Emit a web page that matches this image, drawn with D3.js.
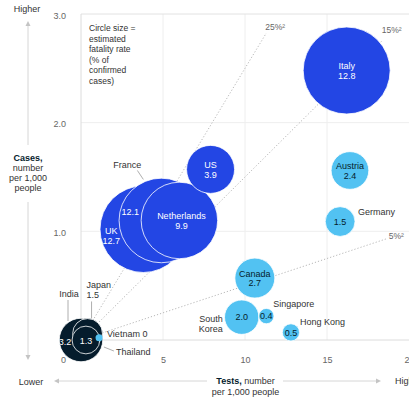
<!DOCTYPE html>
<html>
<head>
<meta charset="utf-8">
<script src="https://cdn.jsdelivr.net/npm/d3@7"></script>
<style>
  body { margin: 0; background: #fff; }
  svg { display: block; font-family: "Liberation Sans", Arial, sans-serif; }
  .tick text { fill: #666; font-size: 9px; }
</style>
</head>
<body>
<svg id="chart" width="409" height="398"></svg>
<script>
// countries, tests per 1,000 people, cases per 1,000 people, fatality rate (%)
var countries = ["UK", "France", "Netherlands", "US", "Italy", "Austria", "Germany", "Canada",
                 "South Korea", "Singapore", "Hong Kong", "India", "Japan", "Thailand", "Vietnam"];
var tests    = [3.8, 4.9, 6.0, 7.9, 16.2, 16.4, 15.8, 10.6, 9.8, 11.3, 12.8, 0.0, 0.4, 0.3, 1.1];
var cases    = [1.02, 1.10, 1.10, 1.57, 2.48, 1.56, 1.09, 0.57, 0.21, 0.22, 0.07, 0.0, 0.06, 0.0, 0.02];
var fatality = [12.7, 12.1, 9.9, 3.9, 12.8, 2.4, 1.5, 2.7, 2.0, 0.4, 0.5, 3.2, 1.5, 1.3, 0];
var groups   = ["high", "high", "high", "high", "high", "mid", "mid", "mid",
                "mid", "mid", "mid", "low", "low", "low", "mid"];

// positivity reference lines (cases / tests) and where they stop on the tests axis
var positivity = [0.25, 0.15, 0.05];
var positivityLabels = ["25%²", "15%²", "5%²"];
var positivityEnd = [11.3, 18.4, 18.7];

var xTicks = [0, 5, 10, 15, 20];
var yTicks = [1, 2, 3];

var svg = d3.select("#chart");
var width = 409;

var x = d3.scaleLinear().domain([0, 20]).range([81, 409]);
var y = d3.scaleLinear().domain([0, 3]).range([340, 14]);
var r = d3.scaleSqrt().domain([0, 12.8]).range([0, 43.5]);
var color = d3.scaleOrdinal().domain(["high", "mid", "low"]).range(["#2346e4", "#52c2f2", "#051c2c"]);

var data = countries.map(function (c, i) {
    return { name: c, tests: tests[i], cases: cases[i], fatality: fatality[i], group: groups[i] };
});

// gridlines
var grid = svg.append("g").attr("class", "grid");
grid.selectAll("line.gx").data([5, 10, 15]).enter().append("line")
    .attr("x1", function (d) { return x(d); }).attr("x2", function (d) { return x(d); })
    .attr("y1", y(3)).attr("y2", y(0))
    .attr("stroke", "#eeeeee");
grid.selectAll("line.gy").data([1, 2]).enter().append("line")
    .attr("x1", x(0)).attr("x2", width)
    .attr("y1", function (d) { return y(d); }).attr("y2", function (d) { return y(d); })
    .attr("stroke", "#eeeeee");
// frame
grid.append("line").attr("x1", x(0)).attr("x2", width).attr("y1", y(3)).attr("y2", y(3)).attr("stroke", "#e2e2e2");
grid.append("line").attr("x1", x(0)).attr("x2", x(0)).attr("y1", y(3)).attr("y2", y(0)).attr("stroke", "#dcdcdc");
grid.append("line").attr("x1", x(0)).attr("x2", width).attr("y1", y(0)).attr("y2", y(0)).attr("stroke", "#dcdcdc");

// axes
var xAxis = svg.append("g")
    .attr("transform", "translate(0," + y(0) + ")")
    .call(d3.axisBottom(x).tickValues(xTicks).tickSize(0).tickPadding(17).tickFormat(d3.format("d")));
xAxis.select(".domain").remove();
xAxis.selectAll(".tick").filter(function (d) { return d === 0; }).select("text").attr("dx", -18);

var yAxis = svg.append("g")
    .attr("transform", "translate(" + x(0) + ",0)")
    .call(d3.axisLeft(y).tickValues(yTicks).tickSize(0).tickPadding(15).tickFormat(d3.format(".1f")));
yAxis.select(".domain").remove();
yAxis.selectAll(".tick text").attr("dy", "0.45em");

// positivity lines
var plines = svg.append("g");
positivity.forEach(function (p, i) {
    plines.append("line")
        .attr("x1", x(0)).attr("y1", y(0))
        .attr("x2", x(positivityEnd[i])).attr("y2", y(p * positivityEnd[i]))
        .attr("stroke", "#b8b8b8").attr("stroke-width", 1).attr("stroke-dasharray", "1.2,2");
});
var plabelOffset = [[-1, -6], [-1, -10], [1, -2]];
plines.selectAll("text").data(positivity).enter().append("text")
    .attr("x", function (d, i) { return x(positivityEnd[i]) + plabelOffset[i][0]; })
    .attr("y", function (d, i) { return y(d * positivityEnd[i]) + plabelOffset[i][1]; })
    .attr("dy", "0.35em")
    .attr("font-size", 8.5).attr("fill", "#666")
    .text(function (d, i) { return positivityLabels[i]; });

// bubbles
svg.append("g").selectAll("circle").data(data).enter().append("circle")
    .attr("cx", function (d) { return x(d.tests); })
    .attr("cy", function (d) { return y(d.cases); })
    .attr("r", function (d) { return d.fatality > 0 ? r(d.fatality) : 3.5; })
    .attr("fill", function (d) { return color(d.group); })
    .attr("stroke", "#fff")
    .attr("stroke-width", function (d) { return d.fatality > 0 ? 0.8 : 0; });

function find(name) { return data.filter(function (d) { return d.name === name; })[0]; }

// labels inside the bubbles: [country, lines, dx, dy of first line]
var inner = [
    ["Italy", ["Italy", "12.8"], 0, -4.5],
    ["US", ["US", "3.9"], 0, -4.5],
    ["Netherlands", ["Netherlands", "9.9"], 2, -4.5],
    ["France", ["12.1"], -31, -9],
    ["UK", ["UK", "12.7"], -32, 2],
    ["Austria", ["Austria", "2.4"], 0, -4.5],
    ["Germany", ["1.5"], 0, 0],
    ["Canada", ["Canada", "2.7"], 0, -4.5],
    ["South Korea", ["2.0"], 0, 0],
    ["Singapore", ["0.4"], 0, 0],
    ["Hong Kong", ["0.5"], 0, 0],
    ["India", ["3.2"], -16, 2],
    ["Thailand", ["1.3"], 0, 1]
];
var innerG = svg.append("g").attr("font-size", 9).attr("text-anchor", "middle");
inner.forEach(function (l) {
    var d = find(l[0]);
    var t = innerG.append("text")
        .attr("fill", d.group === "mid" ? "#051c2c" : "#fff");
    l[1].forEach(function (line, j) {
        t.append("tspan")
            .attr("x", x(d.tests) + l[2])
            .attr("y", y(d.cases) + l[3] + j * 9.5)
            .attr("dy", "0.35em")
            .text(line);
    });
});

// labels outside the bubbles: [country, lines, dx, dy, anchor, leader]
var outer = [
    ["France", ["France"], -34, -56, "middle", [[-24, -50], [-18, -41]]],
    ["Germany", ["Germany"], 18, -10, "start", null],
    ["Singapore", ["Singapore"], 7, -12, "start", null],
    ["Hong Kong", ["Hong Kong"], 9, -11, "start", null],
    ["South Korea", ["South", "Korea"], -19, 2, "end", null],
    ["Vietnam", ["Vietnam 0"], 8, -4, "start", null],
    ["Thailand", ["Thailand"], 30, 12, "start", [[18, 7], [28, 11]]],
    ["India", ["India"], -12, -46, "middle", [[-13, -40], [-13, -19]]],
    ["Japan", ["Japan", "1.5"], -1, -49, "start", [[4, -32], [4, -15]]]
];
var outerG = svg.append("g").attr("font-size", 9).attr("fill", "#333");
outer.forEach(function (l) {
    var d = find(l[0]);
    var cx = x(d.tests), cy = y(d.cases);
    var t = outerG.append("text").attr("text-anchor", l[4]);
    l[1].forEach(function (line, j) {
        t.append("tspan")
            .attr("x", cx + l[2])
            .attr("y", cy + l[3] + j * 10)
            .attr("dy", "0.35em")
            .text(line);
    });
    if (l[5]) {
        outerG.append("line")
            .attr("x1", cx + l[5][0][0]).attr("y1", cy + l[5][0][1])
            .attr("x2", cx + l[5][1][0]).attr("y2", cy + l[5][1][1])
            .attr("stroke", "#999").attr("stroke-width", 0.8);
    }
});

// legend note
var note = ["Circle size =", "estimated", "fatality rate", "(% of", "confirmed", "cases)"];
svg.append("text").attr("font-size", 8.5).attr("fill", "#333")
    .selectAll("tspan").data(note).enter().append("tspan")
    .attr("x", 89).attr("y", function (d, i) { return 28 + i * 10.6; })
    .attr("dy", "0.35em")
    .text(function (d) { return d; });

// axis titles and direction arrows
var titles = svg.append("g").attr("font-size", 9).attr("fill", "#333");
titles.append("text").attr("x", 27).attr("y", 9).attr("dy", "0.35em").attr("text-anchor", "middle").text("Higher");
titles.append("text").attr("x", 31).attr("y", 382).attr("dy", "0.35em").attr("text-anchor", "middle").text("Lower");
titles.append("text").attr("x", 395).attr("y", 381).attr("dy", "0.35em").text("Higher");

var yTitle = ["Cases,", "number", "per 1,000", "people"];
titles.append("text").attr("text-anchor", "middle").attr("fill", "#051c2c")
    .selectAll("tspan").data(yTitle).enter().append("tspan")
    .attr("x", 28).attr("y", function (d, i) { return 158 + i * 10; })
    .attr("dy", "0.35em")
    .attr("font-weight", function (d, i) { return i === 0 ? "bold" : null; })
    .attr("fill", function (d, i) { return i === 0 ? "#051c2c" : "#333"; })
    .text(function (d) { return d; });

var xt = titles.append("text").attr("text-anchor", "middle").attr("x", 245.5).attr("y", 381).attr("dy", "0.35em");
xt.append("tspan").attr("font-weight", "bold").attr("fill", "#051c2c").text("Tests,");
xt.append("tspan").text(" number");
titles.append("text").attr("text-anchor", "middle").attr("x", 245.5).attr("y", 392).attr("dy", "0.35em").text("per 1,000 people");

var arrows = svg.append("g").attr("stroke", "#d6d6d6").attr("stroke-width", 1);
arrows.append("line").attr("x1", 28).attr("x2", 28).attr("y1", 25).attr("y2", 145);
arrows.append("line").attr("x1", 28).attr("x2", 28).attr("y1", 202).attr("y2", 356);
arrows.append("line").attr("x1", 57).attr("x2", 207).attr("y1", 381).attr("y2", 381);
arrows.append("line").attr("x1", 283).attr("x2", 378).attr("y1", 381).attr("y2", 381);
var heads = svg.append("g").attr("fill", "#c4c4c4");
heads.append("path").attr("d", "M28,21 L25.5,26 L30.5,26 Z");
heads.append("path").attr("d", "M28,360 L25.5,355 L30.5,355 Z");
heads.append("path").attr("d", "M54,381 L59,378.5 L59,383.5 Z");
heads.append("path").attr("d", "M381,381 L376,378.5 L376,383.5 Z");
</script>
</body>
</html>
